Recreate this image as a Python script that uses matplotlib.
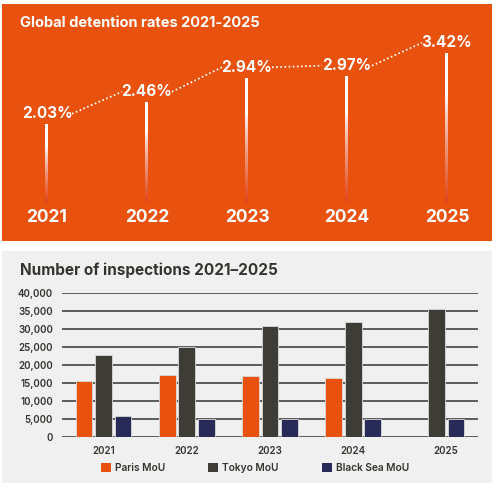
import numpy as np
import matplotlib
matplotlib.use('Agg')
import matplotlib.pyplot as plt
from matplotlib.patches import Rectangle, Patch
from matplotlib.transforms import offset_copy, blended_transform_factory

# ---------------- data ----------------
years = ['2021', '2022', '2023', '2024', '2025']
detention_rates = [2.03, 2.46, 2.94, 2.97, 3.42]
rate_labels = ['2.03%', '2.46%', '2.94%', '2.97%', '3.42%']

series_names = ['Paris MoU', 'Tokyo MoU', 'Black Sea MoU']
paris = [15700, 17300, 17000, 16500, np.nan]
tokyo = [22900, 25000, 30900, 32000, 35600]
black_sea = [5900, 5100, 5100, 5000, 5100]
y_ticks = list(range(0, 40001, 5000))

top_title = 'Global detention rates 2021-2025'
bottom_title = 'Number of inspections 2021\u20132025'

# ---------------- style ----------------
ORANGE = '#E8520E'
DARK = '#3d3c37'
NAVY = '#282a58'
PANEL_GRAY = '#f0f0f0'
TEXT_DARK = '#35342f'
FONT = ['Inter', 'DejaVu Sans']
plt.rcParams['font.family'] = FONT

W, H = 496, 488
fig = plt.figure(figsize=(W / 100, H / 100), dpi=100)
fig.patch.set_facecolor('white')


def fx(px):
    return px / W


def fy(py):
    return 1 - py / H


# panels
fig.add_artist(Rectangle((fx(2), fy(241)), 490 / W, 237 / H, transform=fig.transFigure,
                         facecolor=ORANGE, edgecolor='none', zorder=0))
fig.add_artist(Rectangle((fx(2), fy(483)), 490 / W, 232 / H, transform=fig.transFigure,
                         facecolor=PANEL_GRAY, edgecolor='none', zorder=0))

# ---------------- top chart ----------------
axt = fig.add_axes([fx(2), fy(202), 490 / W, 198 / H])
axt.set_axis_off()
axt.patch.set_alpha(0)
base = 0.52
top_lim = 4.395
n = len(years)
xs = np.arange(n)

# gradient vertical lines (white top fading into the panel colour)
grad = np.linspace(0, 1, 300)[:, None]
c_top = np.array([1.0, 1.0, 1.0])
c_bot = np.array(matplotlib.colors.to_rgb('#e2461a'))
t = np.clip((grad - 0.28) / 0.72, 0, 1) ** 0.8
img = c_top * (1 - t[..., None]) + c_bot * t[..., None]
hw = 0.015
for x, v in zip(xs, detention_rates):
    axt.imshow(img, extent=[x - hw, x + hw, base, v], aspect='auto',
               interpolation='bilinear', zorder=2)

label_tr = offset_copy(axt.transData, fig=fig, x=0, y=8, units='points')
# dotted connectors between labels
half = 0.25
for i in range(n - 1):
    axt.plot([xs[i] + half, xs[i + 1] - half],
             [detention_rates[i], detention_rates[i + 1]],
             transform=label_tr, color='white', lw=1.3,
             linestyle=(0, (0.9, 1.4)), solid_capstyle='butt', zorder=3)
for x, v, lab in zip(xs, detention_rates, rate_labels):
    axt.text(x, v, lab, transform=label_tr, ha='center', va='center',
             color='white', fontsize=11, fontweight='bold', zorder=4)

axt.set_xlim(-0.45, 4.45)
axt.set_ylim(base, top_lim)

year_tr = blended_transform_factory(axt.transData, fig.transFigure)
for x, y in zip(xs, years):
    axt.text(x, fy(217), y, transform=year_tr, ha='center', va='center',
             color='white', fontsize=12.5, fontweight='bold', clip_on=False)

fig.text(fx(20), fy(23), top_title, ha='left', va='center', color='white',
         fontsize=10.5, fontweight='bold')

# ---------------- bottom chart ----------------
axb = fig.add_axes([fx(62), fy(437.3), 416 / W, 144 / H])
axb.patch.set_alpha(0)
series = [paris, tokyo, black_sea]
colors = [ORANGE, DARK, NAVY]
step = 0.234
offsets = [-step, 0, step]
for vals, off, col, name in zip(series, offsets, colors, series_names):
    axb.bar(xs + off, vals, width=0.2, color=col, edgecolor='#dadada',
            linewidth=0.6, zorder=3, label=name)

tick_pos = []
for i in range(n):
    present = [off for vals, off in zip(series, offsets) if not np.isnan(vals[i])]
    tick_pos.append(i + np.mean(present))
axb.set_xticks(tick_pos)
axb.set_xticklabels(years)
axb.set_yticks(y_ticks)
axb.set_yticklabels([f'{v:,}' for v in y_ticks])
axb.set_xlim(-0.5, 4.5)
axb.set_ylim(0, 40000)
axb.grid(axis='y', color='#333333', linewidth=1.1, zorder=1)
axb.set_axisbelow(True)
for s in axb.spines.values():
    s.set_visible(False)
axb.tick_params(length=0, colors=TEXT_DARK, labelsize=7)
axb.tick_params(axis='y', pad=6.5)
axb.tick_params(axis='x', pad=6.5)
for lab in axb.get_xticklabels() + axb.get_yticklabels():
    lab.set_fontweight('semibold')

fig.text(fx(20), fy(270), bottom_title, ha='left', va='center', color=TEXT_DARK,
         fontsize=11, fontweight='bold')

handles = [Patch(facecolor=c, edgecolor='none') for c in colors]
fig.legend(handles, series_names, loc='center', bbox_to_anchor=(fx(255), fy(468)),
           ncol=3, frameon=False, handlelength=0.95, handleheight=0.95,
           handletextpad=0.4, columnspacing=4.3, labelcolor=TEXT_DARK,
           prop={'weight': 'semibold', 'size': 7.3})

fig.savefig('out.png', dpi=100, facecolor='white')
